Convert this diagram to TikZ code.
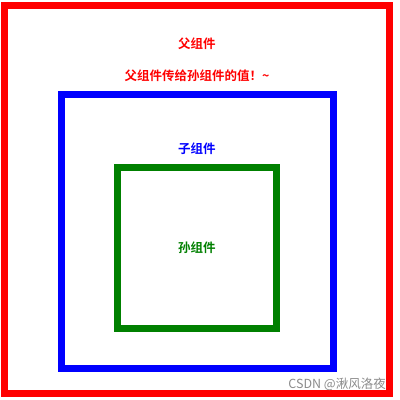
\documentclass[tikz,border=0pt]{standalone}
\usepackage{fontspec}
\newfontfamily\cjk{Noto Sans CJK SC}
\newfontfamily\cjkb{Noto Sans CJK SC Bold}
\definecolor{vgreen}{RGB}{0,128,0}
\begin{document}
\begin{tikzpicture}[x=1pt,y=-1pt,
  frame/.style={line width=7pt},
  lbl/.style={font=\cjkb\fontsize{12.5}{14}\selectfont, inner sep=0pt}]
\useasboundingbox (0,0) rectangle (400,400);
\fill[white] (0,0) rectangle (400,400);
\draw[frame, red] (4.5,5.5) rectangle (389.5,393.5);
\draw[frame, blue] (61,94.5) rectangle (333,368);
\draw[frame, vgreen] (117.7,167.8) rectangle (276,328);
\node[lbl, text=red] (p) at (197,44) {父组件};
\node[lbl, text=red] (pv) at (197,76) {父组件传给孙组件的值！\char`\~};
\node[lbl, text=blue] (c) at (197,148.5) {子组件};
\node[lbl, text=vgreen] (g) at (197,248) {孙组件};
\node[font=\cjk\fontsize{12.5}{14}\selectfont, text=black!45, inner sep=0pt, anchor=east] (w) at (386,384.5) {CSDN @湫风洛夜};
\end{tikzpicture}
\end{document}
